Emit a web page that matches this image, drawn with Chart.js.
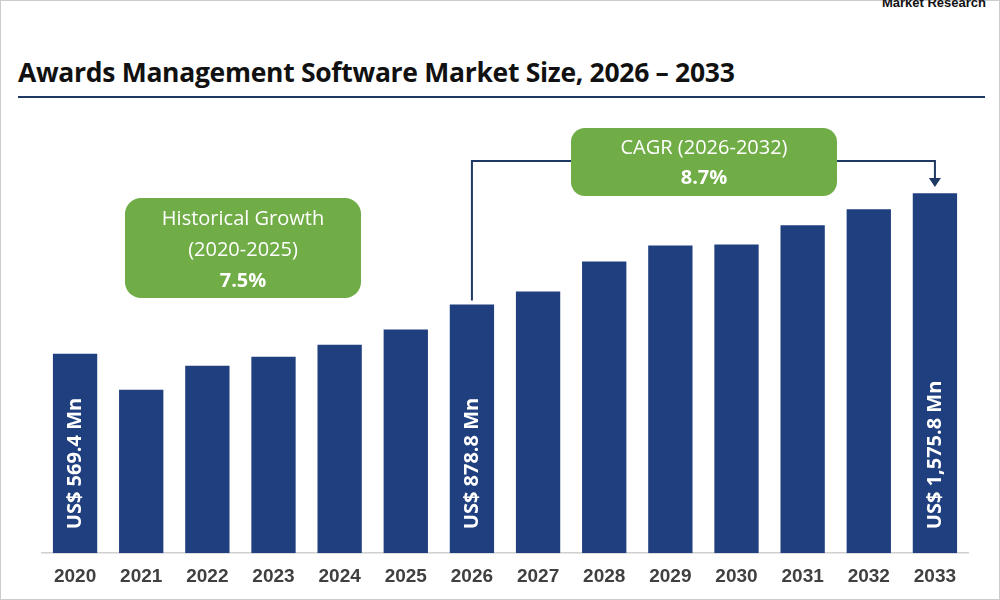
<!DOCTYPE html>
<html><head><meta charset="utf-8">
<script src="https://cdn.jsdelivr.net/npm/chart.js@4"></script>
<style>
body{margin:0;width:1000px;height:600px;overflow:hidden;background:#fff;font-family:"Open Sans",sans-serif;position:relative}
#t{position:absolute;left:18px;top:54px;font-size:26.5px;font-weight:bold;color:#111;font-family:"Open Sans",sans-serif;letter-spacing:-0.3px}
#ln{position:absolute;left:18px;top:96px;width:967px;height:2px;background:#1f3864}
#logo{position:absolute;right:14px;top:-5px;font-size:13px;font-weight:bold;color:#111;font-family:Arial,sans-serif}
#fr{position:absolute;left:0;top:0;width:998px;height:598px;border:1px solid #ccc}
#c{position:absolute;left:0;top:0}
</style></head><body>
<div id="fr"></div>
<div id="logo">Market Research</div>
<div id="t">Awards Management Software Market Size, 2026 – 2033</div>
<div id="ln"></div>
<canvas id="c" width="1000" height="600"></canvas>
<script>
const years=["2020","2021","2022","2023","2024","2025","2026","2027","2028","2029","2030","2031","2032","2033"];
const values=[569.4,343,494,551,626,721,878.8,960,1148,1249,1255,1375,1475,1575.8];
const barLabels={0:"US$ 569.4 Mn",6:"US$ 878.8 Mn",13:"US$ 1,575.8 Mn"};
const yMin=-682, yMax=2161;
function rr(ctx,x,y,w,h,r){ctx.beginPath();ctx.moveTo(x+r,y);ctx.arcTo(x+w,y,x+w,y+h,r);ctx.arcTo(x+w,y+h,x,y+h,r);ctx.arcTo(x,y+h,x,y,r);ctx.arcTo(x,y,x+w,y,r);ctx.closePath();}
const ann={id:'ann',afterDatasetsDraw(ch){
 const ctx=ch.ctx,m=ch.getDatasetMeta(0);
 ctx.save();
 ctx.fillStyle='#fff';ctx.font='bold 20px "Open Sans"';ctx.textAlign='center';ctx.textBaseline='middle';
 const y0=ch.scales.y.getPixelForValue(yMin);
 for(const k in barLabels){const b=m.data[k];
  ctx.save();ctx.translate(b.x,y0-24-ctx.measureText(barLabels[k]).width/2);ctx.rotate(-Math.PI/2);ctx.fillText(barLabels[k],0,0);ctx.restore();}
 const b6=m.data[6],b13=m.data[13];
 ctx.strokeStyle='#1f3864';ctx.lineWidth=2;ctx.beginPath();
 ctx.moveTo(b6.x,b6.y-4);ctx.lineTo(b6.x,161);ctx.lineTo(b13.x,161);ctx.lineTo(b13.x,180);ctx.stroke();
 ctx.fillStyle='#1f3864';ctx.beginPath();ctx.moveTo(b13.x-6,178);ctx.lineTo(b13.x+6,178);ctx.lineTo(b13.x,187);ctx.closePath();ctx.fill();
 ctx.fillStyle='#70ad47';
 rr(ctx,571,128,266,68,14);ctx.fill();
 rr(ctx,125,198,236,100,16);ctx.fill();
 ctx.fillStyle='#fff';
 ctx.font='20px "Open Sans"';ctx.fillText('CAGR (2026-2032)',704,148);
 ctx.font='bold 20px "Open Sans"';ctx.fillText('8.7%',704,178);
 ctx.font='20px "Open Sans"';ctx.fillText('Historical Growth',243,219);ctx.fillText('(2020-2025)',243,250);
 ctx.font='bold 20px "Open Sans"';ctx.fillText('7.5%',243,281);
 ctx.restore();}};
new Chart(document.getElementById('c'),{type:'bar',
 data:{labels:years,datasets:[{data:values,base:yMin,backgroundColor:'#203f7f',barPercentage:0.67,categoryPercentage:1}]},
 options:{responsive:false,animation:false,devicePixelRatio:1,
  layout:{padding:{left:42,right:32,top:100,bottom:0}},
  plugins:{legend:{display:false},tooltip:{enabled:false}},
  scales:{y:{display:false,min:yMin,max:yMax},
   x:{grid:{display:false,drawTicks:false},border:{color:'#d0d0d0',width:1.5},
     ticks:{color:'#404040',font:{size:19,weight:'bold',family:'Arial'},padding:12}}}},
 plugins:[ann]});
</script></body></html>
